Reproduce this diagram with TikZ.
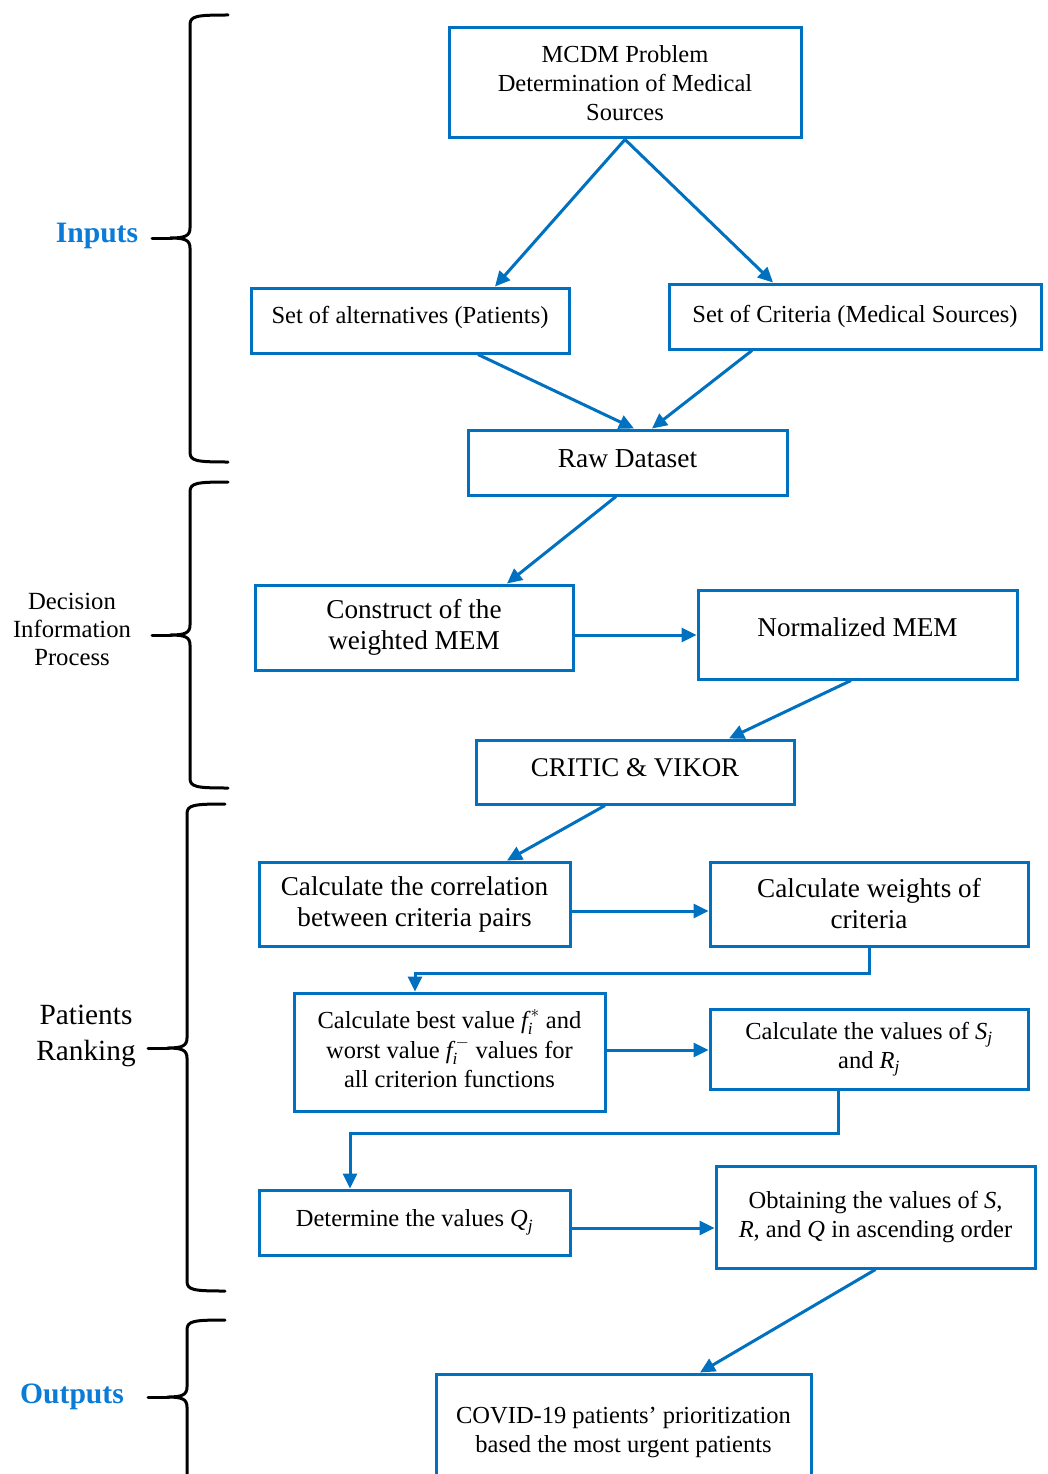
\documentclass[tikz,border=0pt]{standalone}
\usepackage{amsmath}
\usepackage{fontspec}
\setmainfont{Liberation Serif}
\usetikzlibrary{arrows.meta}
\definecolor{myblue}{RGB}{0,112,192}
\definecolor{lblue}{RGB}{10,124,215}
\newcommand{\smallfs}{\fontsize{24.5}{29}\selectfont}
\newcommand{\bigfs}{\fontsize{27.2}{31}\selectfont}
\newcommand{\mybrace}[5]{% x, top, mid, bot, tip
  \draw[bracestyle] ({#1+38},#2) .. controls ({#1+6},#2) and (#1,{#2+1}) .. (#1,{#2+10})
    -- (#1,{#3-10}) .. controls (#1,{#3-2}) and ({#1-5},#3) .. ({#1-20},#3)
    .. controls ({#1-5},#3) and (#1,{#3+2}) .. (#1,{#3+10})
    -- (#1,{#4-10}) .. controls (#1,{#4-1}) and ({#1+6},#4) .. ({#1+38},#4);
  \draw[bracestyle] (#5,#3) -- ({#1-18},#3);}
\tikzset{
  box/.style={draw=myblue, line width=3pt, align=center, inner sep=0pt, text=black},
  arr/.style={draw=myblue, line width=3pt, -{Triangle[length=15pt,width=14pt]}},
  bracestyle/.style={draw=black, line width=3pt, line cap=round},
  side/.style={align=center, text=black},
  sideb/.style={align=center, text=lblue, font=\fontsize{29.6}{33}\selectfont\bfseries},
}
\begin{document}
\begin{tikzpicture}[x=1pt,y=-1pt]
\useasboundingbox (0,0) rectangle (1048,1474);
\clip (0,0) rectangle (1048,1474);
\fill[white] (0,0) rectangle (1048,1474);

% boxes
\node[box, minimum width=352pt, minimum height=110pt, font=\smallfs] (mcdm) at (625,83)
  {MCDM Problem\\Determination of Medical\\Sources};
\node[box, minimum width=318pt, minimum height=65pt, font=\smallfs] (alt) at (410,320.5)
  {\raisebox{11pt}{Set of alternatives (Patients)}};
\node[box, minimum width=372pt, minimum height=65pt, font=\smallfs] (crit) at (855,316.5)
  {\raisebox{-3pt}{Set of Criteria (Medical Sources)}};
\node[box, minimum width=319pt, minimum height=65pt, font=\fontsize{27.4}{31}\selectfont] (raw) at (627.5,462.5)
  {\raisebox{7pt}{Raw Dataset}};
\node[box, minimum width=318pt, minimum height=85pt, font=\bigfs] (cons) at (414,627.5)
  {Construct of the\\weighted MEM};
\node[box, minimum width=319pt, minimum height=89pt, font=\bigfs] (norm) at (857.5,634.5)
  {\raisebox{15pt}{Normalized MEM}};
\node[box, minimum width=318pt, minimum height=64pt, font=\fontsize{27}{31}\selectfont] (critic) at (635,772)
  {\raisebox{8pt}{CRITIC \& VIKOR}};
\node[box, minimum width=311pt, minimum height=84pt, font=\bigfs] (corr) at (414.5,904)
  {Calculate the correlation\\between criteria pairs};
\node[box, minimum width=318pt, minimum height=84pt, font=\bigfs] (wts) at (869,904)
  {Calculate weights of\\criteria};
\node[box, minimum width=311pt, minimum height=118pt, font=\smallfs] (best) at (449.5,1052)
  {\raisebox{5pt}{\begin{tabular}{@{}c@{}}Calculate best value $\textit{f}_{\text{\itshape i}}^{\,*}$ and\\[1pt]
   worst value $\textit{f}_{\text{\itshape i}}^{\,-}$ values for\\all criterion functions\end{tabular}}};
\node[box, minimum width=318pt, minimum height=80pt, font=\smallfs] (sr) at (869,1049)
  {Calculate the values of $\textit{S}_{\text{\itshape j}}$\\and $\textit{R}_{\text{\itshape j}}$};
\node[box, minimum width=311pt, minimum height=65pt, font=\smallfs] (qj) at (414.5,1222.5)
  {\raisebox{8pt}{Determine the values $\textit{Q}_{\text{\itshape j}}$}};
\node[box, minimum width=319pt, minimum height=102pt, font=\smallfs] (obt) at (875.5,1217)
  {\raisebox{-3pt}{\begin{tabular}{@{}c@{}}Obtaining the values of \textit{S},\\\textit{R}, and \textit{Q} in ascending order\end{tabular}}};
\node[box, minimum width=375pt, minimum height=116pt, font=\smallfs] (covid) at (623.5,1432)
  {\raisebox{9pt}{\begin{tabular}{@{}c@{}}COVID-19 patients' prioritization\\based the most urgent patients\end{tabular}}};

% connectors
\draw[arr] (mcdm.south) -- ([xshift=85pt]alt.north);
\draw[arr] (mcdm.south) -- ([xshift=-82pt]crit.north);
\draw[arr] ([xshift=68pt]alt.south) -- ([xshift=6.5pt]raw.north);
\draw[arr] ([xshift=-103pt]crit.south) -- ([xshift=24.5pt]raw.north);
\draw[arr] ([xshift=-11.5pt]raw.south) -- ([xshift=93pt]cons.north);
\draw[arr] ([yshift=-7.5pt]cons.east) -- ([yshift=-7.5pt]cons.east -| norm.west);
\draw[arr] ([xshift=-6.5pt]norm.south) -- ([xshift=94pt]critic.north);
\draw[arr] ([xshift=-30pt]critic.south) -- ([xshift=92.5pt]corr.north);
\draw[arr] ([yshift=-7pt]corr.east) -- ([yshift=-7pt]corr.east -| wts.west);
\coordinate (w1) at ([yshift=-26pt]wts.south);
\draw[arr] (wts.south) -- (w1) -| ([xshift=-34.5pt]best.north);
\draw[arr] ([yshift=2pt]best.east) -- ([yshift=2pt]best.east -| sr.west);
\coordinate (s1) at ([xshift=-31pt,yshift=-43pt]sr.south);
\draw[arr] ([xshift=-31pt]sr.south) -- (s1) -| ([xshift=-64.5pt]qj.north);
\draw[arr] ([yshift=-5.5pt]qj.east) -- ([yshift=-5.5pt]qj.east -| obt.west);
\draw[arr] (obt.south) -- ([xshift=76.5pt]covid.north);

% braces
\mybrace{190}{15}{238}{462}{152}
\mybrace{190}{482}{635}{788}{152}
\mybrace{187}{804}{1048}{1291}{148}
\mybrace{187}{1320}{1397}{1540}{148}

% side labels
\node[sideb] (lin) at (97,236) {Inputs};
\node[side, font=\fontsize{24.7}{28}\selectfont] (ldec) at (72,629) {Decision\\Information\\Process};
\node[side, font=\fontsize{29.3}{36}\selectfont] (lpat) at (86,1036) {Patients\\Ranking};
\node[sideb] (lout) at (72,1397) {Outputs};
\end{tikzpicture}
\end{document}
